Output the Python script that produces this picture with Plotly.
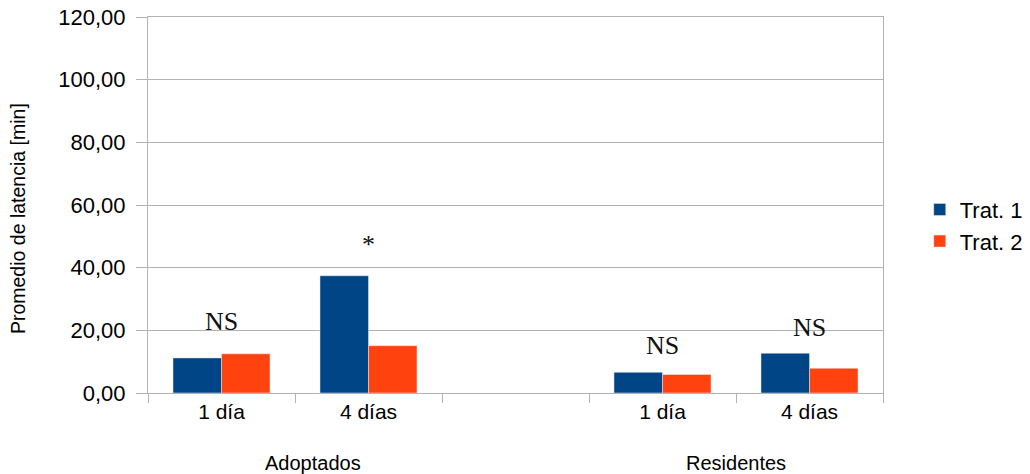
import plotly.graph_objects as go

# categories (gap slot between the two groups)
cat_keys = ["a1", "a4", "gap", "r1", "r4"]
cat_labels = ["1 día", "4 días", "", "1 día", "4 días"]
groups = ["Adoptados", "Residentes"]

trat1 = [11.2, 37.4, None, 6.6, 12.7]
trat2 = [12.5, 15.1, None, 5.9, 7.9]

# significance marks and the height they sit at
sig_keys = ["a1", "a4", "r1", "r4"]
sig_text = ["NS", "*", "NS", "NS"]
sig_y = [22.7, 47.5, 15.1, 20.9]

fig = go.Figure()
fig.add_trace(go.Bar(x=cat_keys, y=trat1, name="Trat. 1", marker_color="#004586"))
fig.add_trace(go.Bar(x=cat_keys, y=trat2, name="Trat. 2", marker_color="#ff420e"))

for k, t, y in zip(sig_keys, sig_text, sig_y):
    fig.add_annotation(x=k, y=y, text=t, showarrow=False,
                       font=dict(family="Liberation Serif", size=26, color="#111111"))

for g, xp in zip(groups, [0.225, 0.8]):
    fig.add_annotation(x=xp, y=-0.186, xref="paper", yref="paper", text=g,
                       showarrow=False, xanchor="center", yanchor="middle",
                       font=dict(family="Liberation Sans", size=20, color="#000000"))

# y axis title, placed like the original (a bit below the plot centre)
fig.add_annotation(x=-0.177, y=0.465, xref="paper", yref="paper",
                   text="Promedio de latencia [min]", textangle=-90,
                   showarrow=False, xanchor="center", yanchor="middle",
                   font=dict(family="Liberation Sans", size=19.5, color="#000000"))

grid = "#b3b3b3"
fig.update_layout(
    width=1030, height=474,
    margin=dict(l=148, r=147, t=17, b=81, autoexpand=False),
    paper_bgcolor="white", plot_bgcolor="white",
    barmode="group", bargap=0.34, bargroupgap=0,
    separators=",.",
    font=dict(family="Liberation Sans", color="#000000"),
    legend=dict(x=1.05, y=0.445, xanchor="left", yanchor="middle",
                font=dict(size=22), itemwidth=30, tracegroupgap=0),
    showlegend=True,
)
fig.update_xaxes(
    type="category", categoryorder="array", categoryarray=cat_keys,
    tickvals=cat_keys, ticktext=cat_labels, tickson="boundaries",
    ticks="outside", ticklen=9, tickcolor=grid,
    showline=True, linecolor=grid, mirror=True, showgrid=False,
    tickfont=dict(size=21), range=[-0.5, 4.5], automargin=False,
)
fig.update_yaxes(
    range=[0, 120], dtick=20, tickformat=".2f",
    ticks="outside", ticklen=11, tickcolor=grid, ticklabelstandoff=6,
    showline=True, linecolor=grid, mirror=True,
    showgrid=True, gridcolor=grid, zeroline=False,
    tickfont=dict(size=22), automargin=False,
)

fig.write_html("out.html", config={"displayModeBar": False},
               post_script="document.body.style.margin='0';")
